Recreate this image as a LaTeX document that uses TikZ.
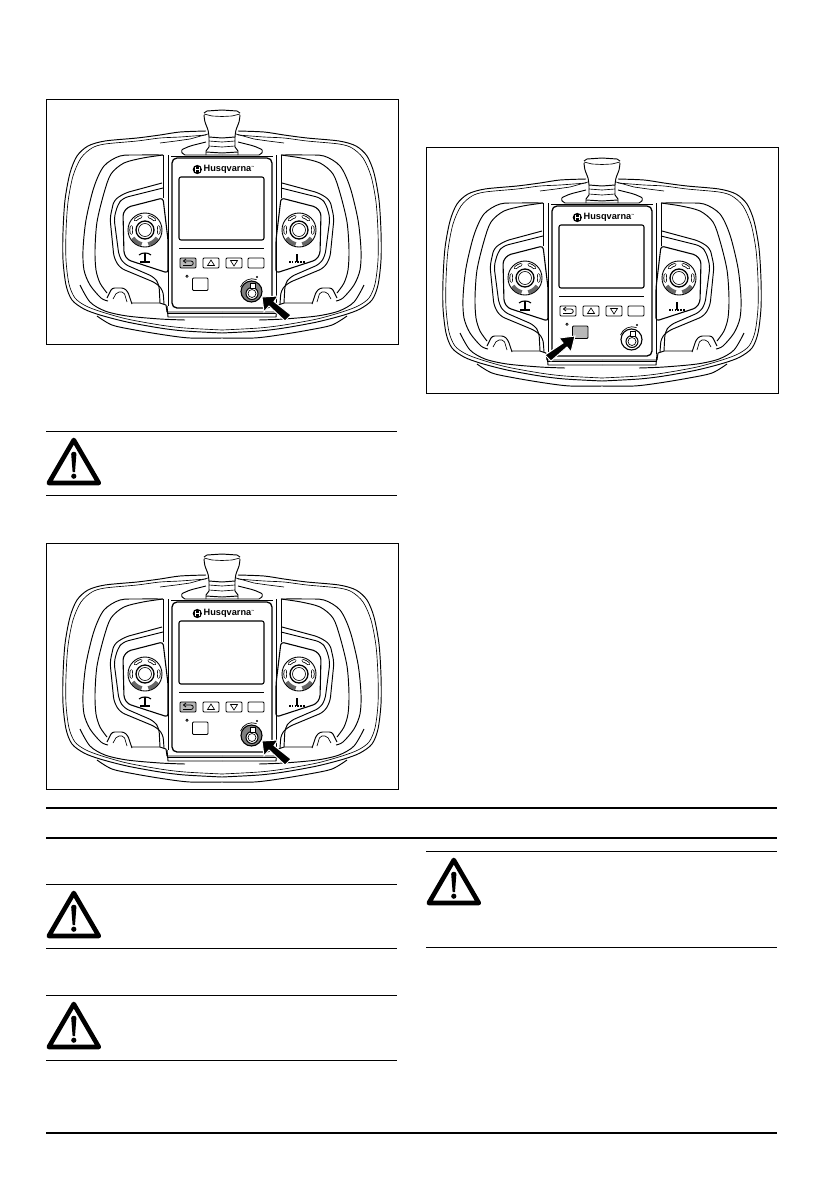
\documentclass[tikz,border=0pt]{standalone}
\usepackage{fontspec}
\setmainfont{Liberation Sans}
\tikzset{
  body/.style={line width=0.95pt, black, line join=round},
  thinline/.style={line width=0.65pt, black},
  keycap/.style={line width=0.9pt, black, rounded corners=1pt},
  fullrule/.style={line width=1.9pt, black},
  warnrule/.style={line width=0.9pt, black},
  pointer/.style={fill=black, draw=white, line width=1pt, line join=miter},
  logotext/.style={font=\bfseries\fontsize{9.2}{9.2}\selectfont, inner sep=0pt}
}
\definecolor{keygrey}{gray}{0.72}
\definecolor{knobgrey}{gray}{0.5}
\definecolor{lobegrey}{gray}{0.4}

% #1 back key, #2 lower key, #3 knob
\newcommand{\controlpanel}[3]{
  % both halves of the shell
  \foreach \side in {1,-1} {
    \begin{scope}[shift={(222,0)}, xscale=\side, shift={(-222,0)}]
      % outer shell
      \draw[body] plot[smooth] coordinates {(206,131) (180,132) (160,135) (137,138) (105,141) (88,146) (77,156) (70,173) (65,200) (63,232) (63,260) (66,285) (72,300) (84,309) (100,315) (127,322) (160,328) (185,331) (222,333)};
      \draw[thinline] plot[smooth] coordinates {(206,135) (180,137) (160,138) (137,141) (105,144) (92,148) (81,158) (73,176) (68,202) (66,232) (66,260) (69,284) (75,298) (86,306) (102,312) (127,319) (160,325) (185,328) (222,330)};
      \draw[body] plot[smooth] coordinates {(97,316) (112,325) (135,330) (165,335) (190,338) (222,338)};
      % inner shell
      \draw[body] plot[smooth] coordinates {(163,155) (140,155) (120,156) (104,166) (94,187) (86,220) (83,250) (84,270) (90,285) (101,298) (108,301)};
      \draw[body] plot[smooth] coordinates {(163,155) (143,158) (124,163) (111,174) (104,193) (97,222) (95,250) (96,270) (100,283) (107,293)};
      \draw[body] plot[smooth] coordinates {(80,285) (90,302) (105,311) (127,316) (160,319) (185,320)};
      % tray
      \draw[body] (132,303) -- (160,303) -- (166,305) -- (167,312) -- (222,312);
      \draw[line width=1.5pt] (167,313.5) -- (277,313.5);
      \draw[body] (167,306) -- (168,317) -- (222,317);
      % bump
      \draw[body, rounded corners=2.5pt] (107,298) -- (112,288) -- (124,288) -- (128,292) -- (132,304);
      \draw[thinline, rounded corners=2pt] (113,299) -- (117,292) -- (124,292) -- (127,302);
      % joystick recess
      \draw[body, rounded corners=5pt] (162,183) -- (125,193) -- (114,200) -- (110,218) -- (114,258) -- (120,268) -- (156,283) -- (163,290) -- (164,304);
      \draw[body, rounded corners=5pt] (163,188) -- (123,198) -- (118,204) -- (114,218) -- (119,256) -- (124,264) -- (154,277) -- (159,284) -- (160,303);
      \draw[line width=1.1pt, rounded corners=3pt] (163,198) -- (128,207) -- (123,213) -- (124,254) -- (128,260) -- (168,273) -- (168,240) -- cycle;
      % strip beside the display
      \draw[body] (163,155) -- (163,198);
      \draw[body] (168,155) -- (168,273);
      \draw[thinline] (168,273) -- (168,306);
      % joystick
      \foreach \ang in {55,125} {
        \draw[line width=4pt, lobegrey] (145,230) ++(\ang-22:14.5) arc (\ang-22:\ang+22:14.5);
      }
      \draw[line width=0.9pt] (145,230) circle (17);
      \draw[line width=1.3pt] (145,230) circle (9);
      \draw[thinline] (145,230) circle (6.5);
      \foreach \ang in {-60,-120,0,180} {
        \draw[line width=3.2pt, line cap=round] (145,230) ++(\ang-13:14) arc (\ang-13:\ang+13:14);
        \draw[line width=1.6pt, white, line cap=round] (145,230) ++(\ang-13:14) arc (\ang-13:\ang+13:14);
      }
      % mushroom half
      \draw[body] plot[smooth] coordinates {(204,115) (205,122) (208,130) (209,137)};
      \draw[body] (209,137) -- (209,147) -- (206,151) -- (206,155);
      \draw[body] (204,113) -- (207,111) -- (222,110);
      \draw[thinline] (204,114) -- (212,116) -- (222,116.5);
      \draw[body] (209,137) -- (222,138);
      \draw[thinline] (209,141) -- (222,142);
      \draw[thinline] (209,146) -- (222,147);
      \draw[body] (206,152) -- (222,153);
      % guard
      \draw[body, rounded corners=2pt] (206,142) -- (190,146) -- (181,150) -- (183,155) -- (222,155);
      \draw[thinline] (208,134) -- (190,139) -- (176,141) -- (160,143);
    \end{scope}
  }
  % faceplate
  \draw[line width=1.3pt, rounded corners=5pt] (172,158) rectangle (272,308);
  \draw[thinline] (171,156) -- (273,156);
  % display and keys
  \draw[line width=1.1pt, rounded corners=2pt] (179,177) rectangle (264,240);
  \draw[line width=0.9pt] (179,248) -- (264,248);
  \node[logotext, anchor=west] (brand) at (203.5,169.5) {Husqvarna\raisebox{3pt}{\fontsize{3}{3}\selectfont ™}};
  \fill (197.3,169.5) circle (4.6);
  \draw[white, line width=0.8pt] (195.5,167) -- (195.5,172) (199.1,167) -- (199.1,172) (195.5,169.5) -- (199.1,169.5);
  \draw[keycap, fill=#1] (180,258) rectangle (196,268);
  \draw[line width=0.8pt] (183,265.5) -- (191,265.5) .. controls (194,265.5) and (194,261) .. (191,261) -- (183.5,261);
  \draw[line width=0.8pt] (186,259) -- (183.5,261) -- (186,263);
  \draw[keycap] (203,258) rectangle (219,268);
  \draw[thinline] (211,260) -- (207.5,265.5) -- (214.5,265.5) -- cycle;
  \draw[keycap] (226,258) rectangle (242,268);
  \draw[thinline] (234,266) -- (230.5,260.5) -- (237.5,260.5) -- cycle;
  \draw[keycap] (248,258) rectangle (264,268);
  \draw[keycap, fill=#2] (192.5,278) rectangle (208,290.5);
  \draw[line width=0.7pt] (187,275) -- (188.2,276.2) -- (187,277.4) -- (185.8,276.2) -- cycle;
  % knob
  \draw[line width=1.1pt, fill=#3] (251.5,291.5) circle (10.5);
  \draw[line width=1pt, fill=white] (252,293.5) circle (6);
  \draw[thinline] (252,293.5) circle (4);
  \draw[line width=0.8pt, fill=white] (250,283) rectangle (255,288);
  \draw[line width=0.7pt] (240.5,287) arc (200:290:12.5);
  \fill (257,277) circle (1.1);
  % symbols under the joysticks
  \draw[line width=1.1pt] (139,255) to[bend left=20] (145,253) to[bend left=20] (151,255);
  \draw[line width=1.8pt] (145,253) -- (145,262);
  \draw[line width=1.2pt] (140,262) -- (150,262);
  \draw[line width=1.8pt] (297,254) -- (297,262);
  \draw[line width=1.1pt, dash pattern=on 1.6pt off 1.2pt] (289,262) -- (305,262);
}

\newcommand{\warningbox}[3]{
  \draw[warnrule] (#1,#2) -- (#1+351,#2);
  \draw[warnrule] (#1,#3) -- (#1+351,#3);
  \draw[line width=4.6pt, line join=round, fill=white] (#1+2.8,#2+52) -- (#1+27.8,#2+9) -- (#1+52.8,#2+52) -- cycle;
  \fill (#1+25.2,#2+23) .. controls (#1+25.4,#2+20) and (#1+30.2,#2+20) .. (#1+30.4,#2+23) -- (#1+29,#2+41) -- (#1+26.6,#2+41) -- cycle;
  \fill (#1+27.8,#2+45.2) circle (2.6);
}

\begin{document}
\begin{tikzpicture}[x=1pt, y=-1pt]
\useasboundingbox (0,0) rectangle (840,1192);
\fill[white] (0,0) rectangle (840,1192);

% panel with arrow on the knob
\draw[line width=1pt] (46,99.5) rectangle (398.5,344.5);
\controlpanel{keygrey}{white}{knobgrey}
\fill[pointer] (262,297) -- (278,296) -- (274,301.5) -- (291,315) -- (285,321) -- (269,306) -- (264,312) -- cycle;

% same panel, lower
\begin{scope}[shift={(0,444)}]
\draw[line width=1pt] (46,99.5) rectangle (398.5,345.5);
\controlpanel{keygrey}{white}{knobgrey}
\fill[pointer] (262,297) -- (278,296) -- (274,301.5) -- (291,315) -- (285,321) -- (269,306) -- (264,312) -- cycle;
\end{scope}

% panel with arrow on the lower key
\begin{scope}[shift={(380,48)}]
\draw[line width=1pt] (46,99.5) rectangle (398.5,345.5);
\controlpanel{white}{keygrey}{white}
\fill[pointer] (195,288) -- (179,290) -- (183,295) -- (165,307) -- (171,313) -- (187,299) -- (191,304) -- cycle;
\end{scope}

\warningbox{46}{431}{495}
\warningbox{46}{884}{948}
\warningbox{46}{995}{1060}
\warningbox{426}{851}{947}

\draw[fullrule] (46,808) -- (777,808);
\draw[fullrule] (46,838) -- (777,838);
\draw[fullrule] (46,1133) -- (777,1133);
\end{tikzpicture}
\end{document}
